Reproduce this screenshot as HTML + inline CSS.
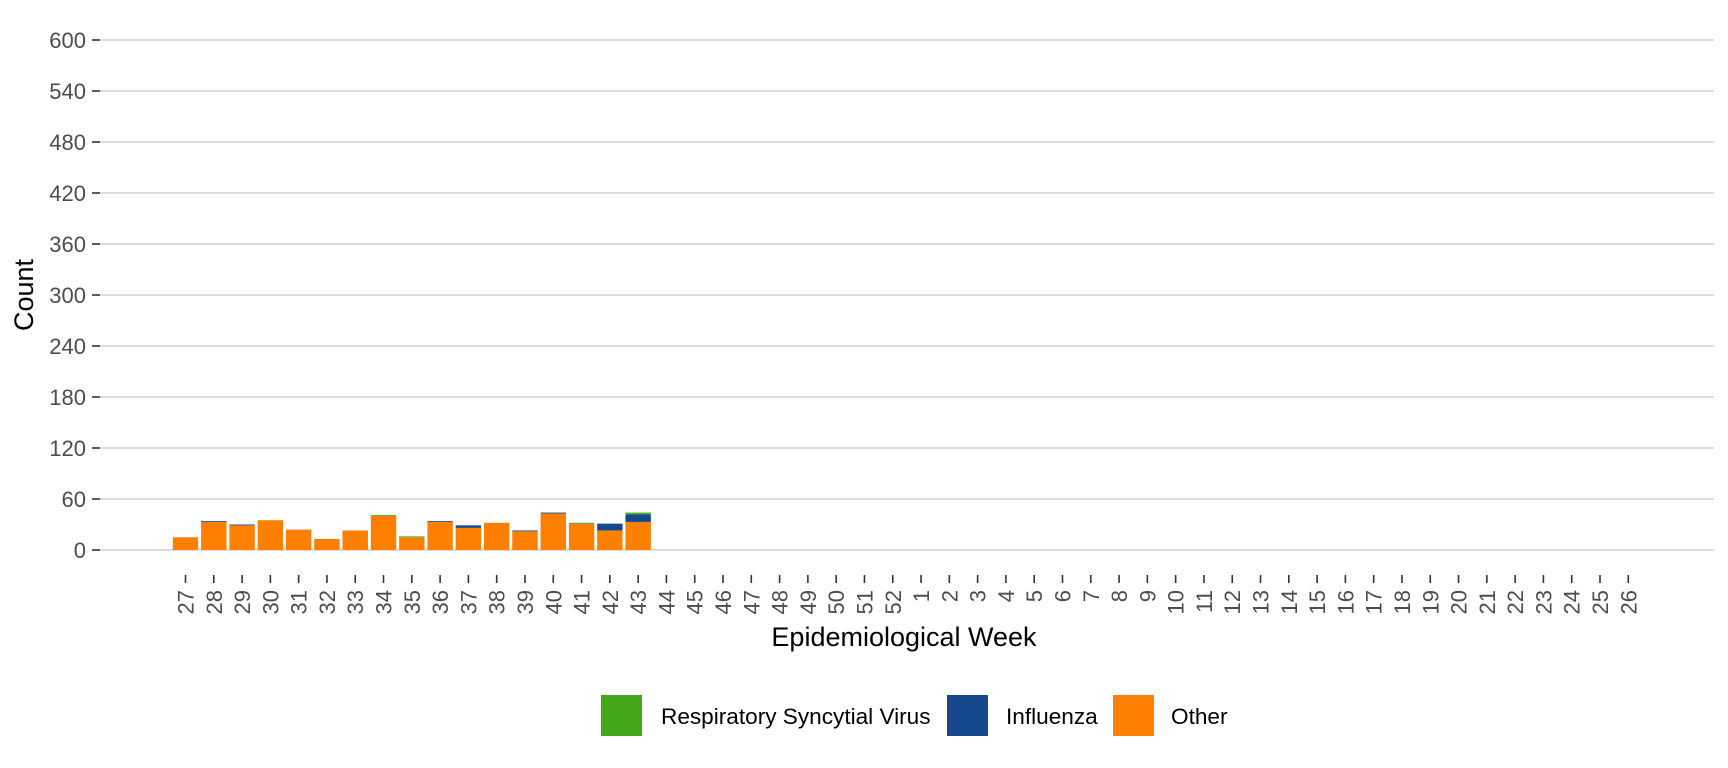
<!DOCTYPE html>
<html><head><style>body{margin:0;background:#fff}svg{display:block;font-family:"Liberation Sans",Arial,sans-serif}</style></head>
<body>
<svg width="1728" height="768" viewBox="0 0 1728 768" xmlns="http://www.w3.org/2000/svg">
<g id="grid" stroke="#d0d0d0" stroke-width="1.4"></g>
<g id="bars"></g>
<g id="ticks" stroke="#333" stroke-width="1.6"></g>
<g id="labels" fill="#4d4d4d" font-size="22"></g>
<text x="33" y="295" transform="rotate(-90 33 295)" text-anchor="middle" font-size="27" fill="#000">Count</text>
<text x="904" y="646" text-anchor="middle" font-size="27" fill="#000">Epidemiological Week</text>
<rect x="601" y="695" width="41" height="41" fill="#43a61b"/>
<text x="661" y="724" font-size="22.6" fill="#000">Respiratory Syncytial Virus</text>
<rect x="947" y="695" width="41" height="41" fill="#15498c"/>
<text x="1006" y="724" font-size="22.6" fill="#000">Influenza</text>
<rect x="1113" y="695" width="41" height="41" fill="#ff7f00"/>
<text x="1171" y="724" font-size="22.6" fill="#000">Other</text>
</svg>
<script>
const ns="http://www.w3.org/2000/svg";
function el(p,t,a,txt){const e=document.createElementNS(ns,t);for(const k in a)e.setAttribute(k,a[k]);if(txt!==undefined)e.textContent=txt;document.getElementById(p).appendChild(e);}
const y0=550,pu=0.85;
for(let v=0;v<=600;v+=60){const y=y0-v*pu;
el("grid","line",{x1:100,x2:1714,y1:y,y2:y});
el("ticks","line",{x1:92,x2:100,y1:y,y2:y});
el("labels","text",{x:86,y:y+8,"text-anchor":"end"},String(v));}
const weeks=[];for(let w=27;w<=52;w++)weeks.push(w);for(let w=1;w<=26;w++)weeks.push(w);
const data={27:[15,0,0],28:[33,1,0],29:[29,1,0],30:[35,0,0],31:[24,0,0],32:[13,0,0],33:[23,0,0],34:[40,0,1],35:[15,0,1],36:[33,1,0],37:[26,3,0],38:[32,0,0],39:[22,1,0],40:[43,1,0],41:[31,0,1],42:[23,8,0],43:[33,9,2]};
const cols=["#ff7f00","#15498c","#43a61b"];
weeks.forEach((w,i)=>{const cx=185.5+i*28.29;
el("ticks","line",{x1:cx,x2:cx,y1:575,y2:583});
el("labels","text",{x:cx+8,y:590,"text-anchor":"end",transform:`rotate(-90 ${cx+8} 590)`},String(w));
const d=data[w];if(d){let acc=0;d.forEach((v,j)=>{if(v>0){el("bars","rect",{x:cx-12.7,width:25.4,y:y0-(acc+v)*pu,height:v*pu,fill:cols[j]});acc+=v;}});}
});
</script>
</body></html>
